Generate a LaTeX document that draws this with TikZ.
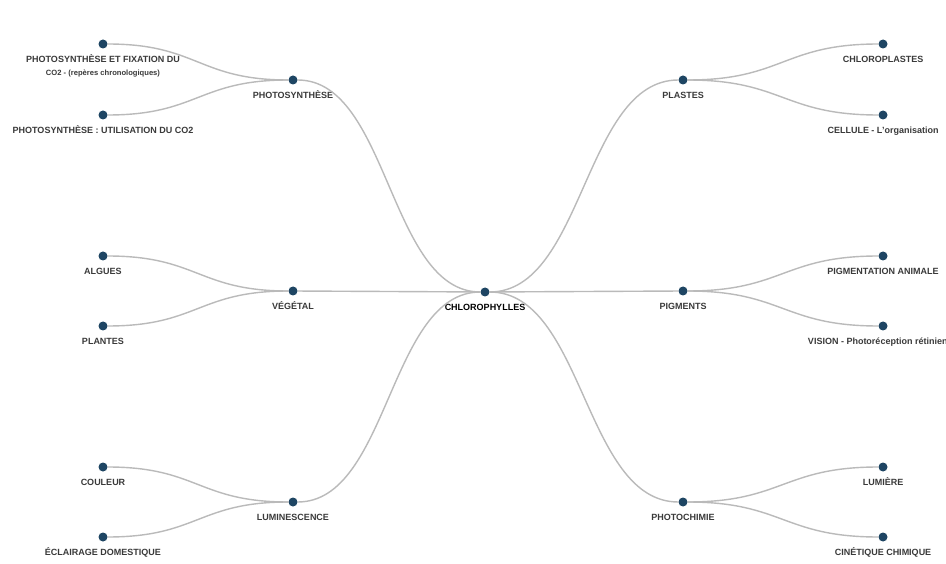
\documentclass[tikz,border=0pt]{standalone}
\usepackage{fontspec}
\setmainfont{Liberation Sans}
\usepackage{tikz}
\usetikzlibrary{calc}

\definecolor{dotblue}{HTML}{1E4563}
\definecolor{linkgray}{HTML}{BABABA}
\definecolor{lblgray}{HTML}{3A3A3A}

\begin{document}
\begin{tikzpicture}[x=1pt,y=-1pt,
  dot/.style={circle,fill=dotblue,inner sep=0pt,minimum size=9pt},
  lbl/.style={anchor=base,inner sep=0pt,text=lblgray,font=\bfseries\fontsize{9}{13}\selectfont,align=center},
  link/.style={draw=linkgray,line width=1.4pt},
  label distance=13.5pt]
\useasboundingbox[fill=white] (0,0) rectangle (946,564);

\node[dot,label={[lbl,text=black]below:CHLOROPHYLLES}] (chloro) at (485,292) {};

\node[dot,label={[lbl]below:PHOTOSYNTHÈSE}] (photo) at (293,80) {};
\node[dot,label={[lbl]below:VÉGÉTAL}] (veg) at (293,291) {};
\node[dot,label={[lbl]below:LUMINESCENCE}] (lumin) at (293,502) {};
\node[dot,label={[lbl]below:PLASTES}] (plastes) at (683,80) {};
\node[dot,label={[lbl]below:PIGMENTS}] (pigm) at (683,291) {};
\node[dot,label={[lbl]below:PHOTOCHIMIE}] (photoch) at (683,502) {};

\node[dot,label={[lbl,label distance=26.5pt]below:PHOTOSYNTHÈSE ET FIXATION DU\\{\fontsize{7.6}{9}\selectfont CO2 - (repères chronologiques)}}] (fixation) at (103,44) {};
\node[dot,label={[lbl]below:PHOTOSYNTHÈSE : UTILISATION DU CO2}] (utilis) at (103,115) {};
\node[dot,label={[lbl]below:ALGUES}] (algues) at (103,256) {};
\node[dot,label={[lbl]below:PLANTES}] (plantes) at (103,326) {};
\node[dot,label={[lbl]below:COULEUR}] (couleur) at (103,467) {};
\node[dot,label={[lbl]below:ÉCLAIRAGE DOMESTIQUE}] (eclair) at (103,537) {};

\node[dot,label={[lbl]below:CHLOROPLASTES}] (chloropl) at (883,44) {};
\node[dot,label={[lbl]below:CELLULE - L'organisation}] (cellule) at (883,115) {};
\node[dot,label={[lbl]below:PIGMENTATION ANIMALE}] (pigmanim) at (883,256) {};
\node[dot,label={[lbl]below:VISION - Photoréception rétinienne}] (vision) at (883,326) {};
\node[dot,label={[lbl]below:LUMIÈRE}] (lumiere) at (883,467) {};
\node[dot,label={[lbl]below:CINÉTIQUE CHIMIQUE}] (cinet) at (883,537) {};

\draw[link] (chloro) .. controls +(-96,0) and +(96,0) .. (photo);
\draw[link] (chloro) -- (veg);
\draw[link] (chloro) .. controls +(-96,0) and +(96,0) .. (lumin);
\draw[link] (chloro) .. controls +(99,0) and +(-99,0) .. (plastes);
\draw[link] (chloro) -- (pigm);
\draw[link] (chloro) .. controls +(99,0) and +(-99,0) .. (photoch);

\draw[link] (photo) .. controls +(-95,0) and +(95,0) .. (fixation);
\draw[link] (photo) .. controls +(-95,0) and +(95,0) .. (utilis);
\draw[link] (veg) .. controls +(-95,0) and +(95,0) .. (algues);
\draw[link] (veg) .. controls +(-95,0) and +(95,0) .. (plantes);
\draw[link] (lumin) .. controls +(-95,0) and +(95,0) .. (couleur);
\draw[link] (lumin) .. controls +(-95,0) and +(95,0) .. (eclair);

\draw[link] (plastes) .. controls +(100,0) and +(-100,0) .. (chloropl);
\draw[link] (plastes) .. controls +(100,0) and +(-100,0) .. (cellule);
\draw[link] (pigm) .. controls +(100,0) and +(-100,0) .. (pigmanim);
\draw[link] (pigm) .. controls +(100,0) and +(-100,0) .. (vision);
\draw[link] (photoch) .. controls +(100,0) and +(-100,0) .. (lumiere);
\draw[link] (photoch) .. controls +(100,0) and +(-100,0) .. (cinet);
\end{tikzpicture}
\end{document}
